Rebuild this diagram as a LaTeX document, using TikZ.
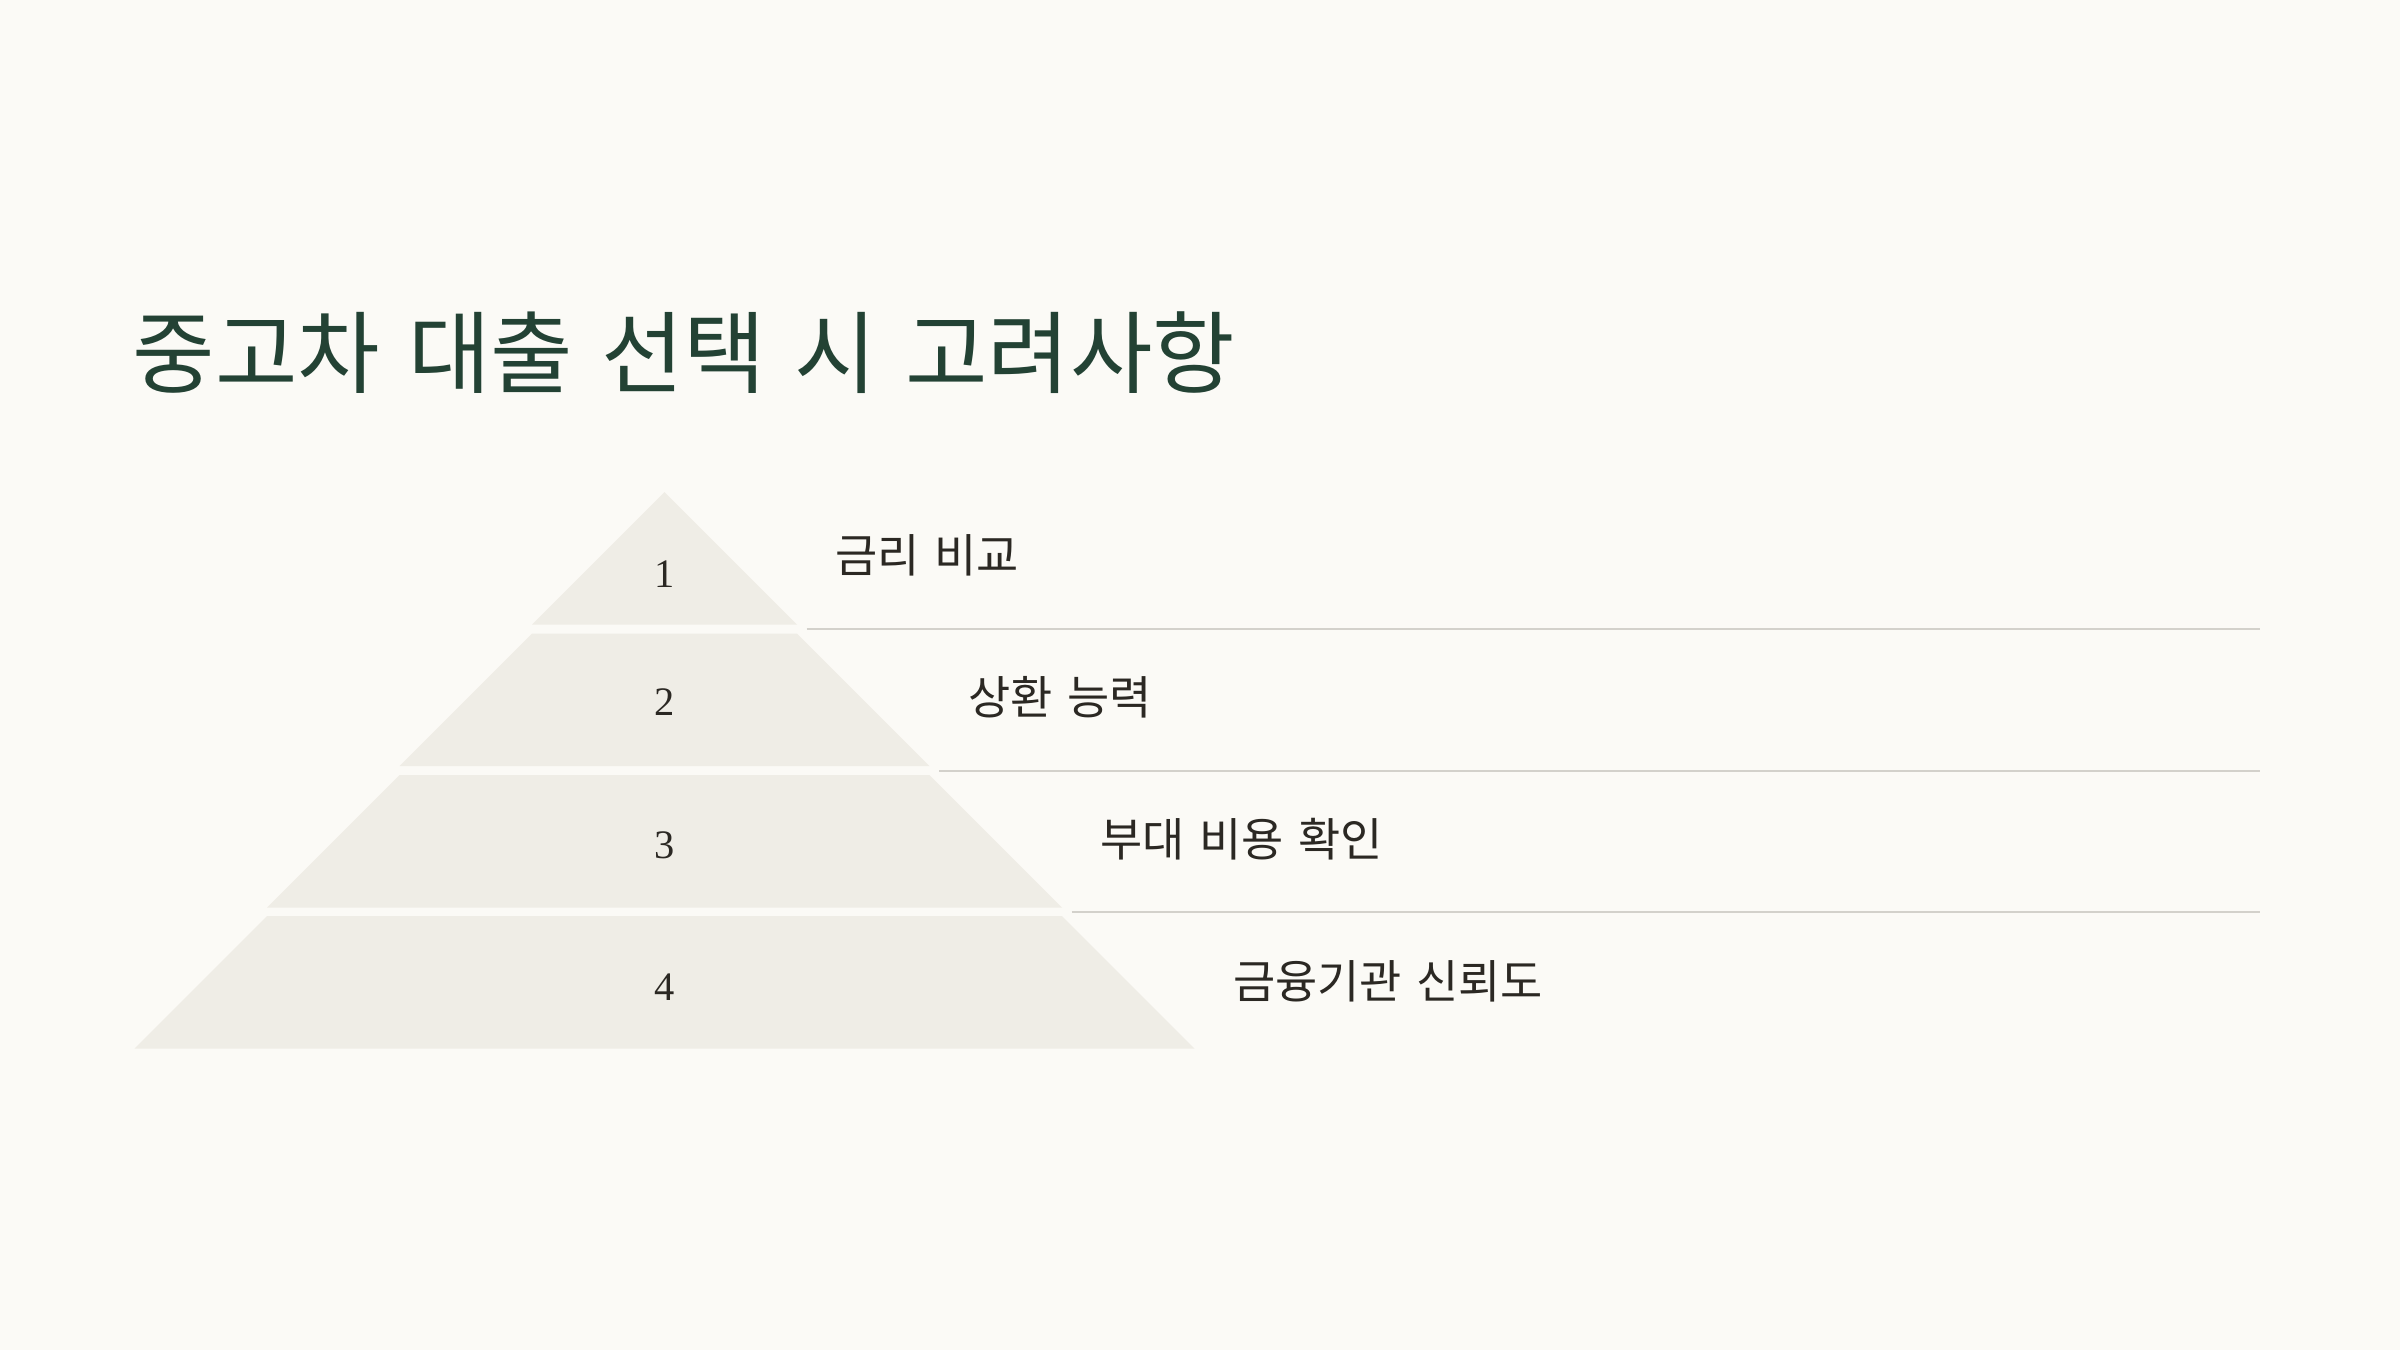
\documentclass[tikz,border=0pt]{standalone}
\usepackage{fontspec}
\newfontfamily\krfont{Noto Sans CJK KR}[WordSpace=0.45]
\newfontfamily\krtitle{Noto Sans CJK KR}[WordSpace=1.4]
\newfontfamily\numfont{Liberation Serif}
\definecolor{bgcol}{HTML}{FBFAF6}
\definecolor{tiercol}{HTML}{EFEDE6}
\definecolor{titlecol}{HTML}{234234}
\definecolor{textcol}{HTML}{2B2823}
\definecolor{rulecol}{HTML}{D3D1CB}

\begin{document}
\begin{tikzpicture}[x=0.01cm, y=-0.01cm,
    tier/.style={fill=tiercol},
    num/.style={font=\numfont\fontsize{11.5}{13}\selectfont, text=textcol, inner sep=0pt},
    lbl/.style={font=\krfont\fontsize{13.05}{16}\selectfont, text=textcol, anchor=west, inner sep=0pt},
    divline/.style={draw=rulecol, line width=0.57pt}]

    \fill[bgcol] (0,0) rectangle (2400,1350);
    \useasboundingbox (0,0) rectangle (2400,1350);

    \node[font=\krtitle\fontsize{25.5}{30}\selectfont, text=titlecol, anchor=west, inner sep=0pt] (title) at (132, 353) {중고차 대출 선택 시 고려사항};

    \fill[tier] (664.5,492) -- (797,624.5) -- (532,624.5) -- cycle;
    \fill[tier] (532,633.5) -- (797,633.5) -- (929.5,766) -- (399.5,766) -- cycle;
    \fill[tier] (399.5,775) -- (929.5,775) -- (1062,907.5) -- (267,907.5) -- cycle;
    \fill[tier] (267,916) -- (1062,916) -- (1194.5,1048.5) -- (134.5,1048.5) -- cycle;

    \draw[divline] (806.5,629) -- (2260,629);
    \draw[divline] (939,770.5) -- (2260,770.5);
    \draw[divline] (1071.5,911.5) -- (2260,911.5);

    \node[num] (n1) at (665, 574) {1};
    \node[num] (n2) at (665, 702) {2};
    \node[num] (n3) at (665, 845) {3};
    \node[num] (n4) at (665, 987) {4};

    \node[lbl] (l1) at (835, 555) {금리 비교};
    \node[lbl] (l2) at (967.5, 697) {상환 능력};
    \node[lbl] (l3) at (1100, 839) {부대 비용 확인};
    \node[lbl] (l4) at (1232.5, 981) {금융기관 신뢰도};

\end{tikzpicture}
\end{document}
